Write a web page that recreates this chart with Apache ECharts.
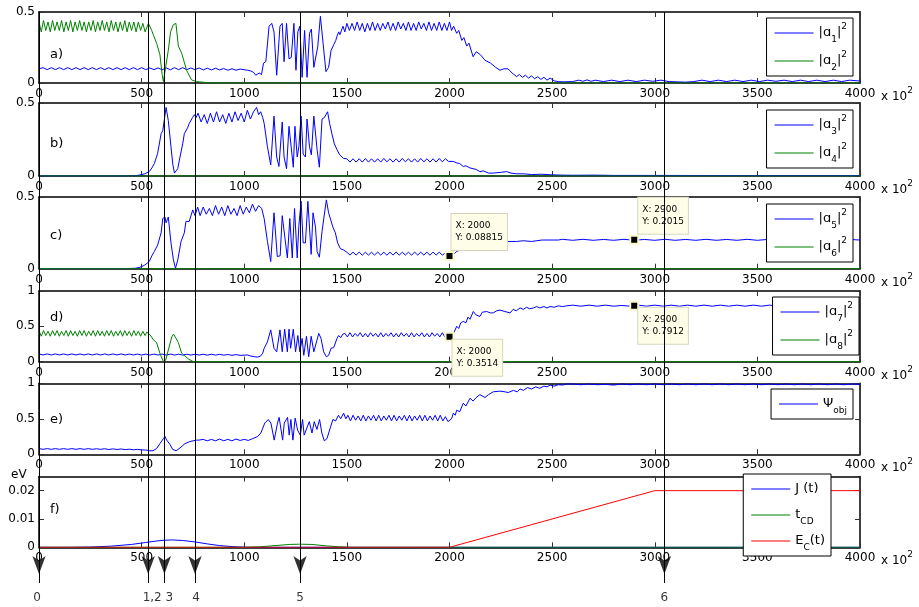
<!DOCTYPE html>
<html>
<head>
<meta charset="utf-8">
<script src="https://cdn.jsdelivr.net/npm/echarts@6/dist/echarts.min.js"></script>
<style>
  html, body { margin: 0; background: #fff; }
  #chart { width: 919px; height: 607px; }
</style>
</head>
<body>
<div id="chart"></div>
<script>
// ---- data (x in units of 10^2) ----
// regular zigzag stretches are stored as values on a fixed x step, the rest as [x, y] pairs

// panel a
const a1Flat = [.10,.108,.094,.108,.094,.108,.094,.108,.094,.108,
  .094,.108,.094,.108,.094,.108,.094,.108,.094,.108,
  .094,.108,.094,.108,.094,.108,.094,.106,.094,.106,
  .093,.106,.093,.108,.094,.108,.094,.106,.094,.106,
  .092,.104,.092,.104,.092,.102,.09,.1,.09,.098];             // x 0..980 step 20
const a1Mid = [[1016,.09],[1032,.085],[1045,.075],[1056,.055],[1064,.065],[1073,.07],[1084,.06],[1094,.14],
  [1105,.15],[1121,.40],[1134,.42],[1145,.36],[1158,.055],[1174,.40],[1185,.42],[1194,.15],[1206,.42],
  [1218,.17],[1229,.18],[1242,.42],[1252,.09],[1261,.36],[1271,.40],[1282,.04],[1294,.37],[1306,.04],
  [1318,.35],[1327,.38],[1339,.11],[1358,.255],[1371,.47],[1384,.28],[1398,.08],[1411,.11],[1423,.23],
  [1436,.27],[1446,.30],[1452,.33],[1460,.36],[1466,.34],[1471,.34],[1481,.40],[1490,.36]];
const a1Plateau = [.42,.37,.42,.37,.43,.37,.42,.36,.42,.37,
  .43,.37,.42,.37,.42,.38,.43,.37,.42,.37,
  .43,.38,.42,.37,.43,.37,.42,.37,.43,.38,
  .42,.37,.43,.37,.42,.37,.43,.37,.42,.37,.43];                 // x 1500..2000 step 12.5
const a1Fall = [[2010,.37],[2020,.40],[2035,.35],[2045,.37],[2060,.30],[2070,.32],[2084,.26],[2095,.28],
  [2115,.185],[2130,.22],[2150,.20],[2173,.16],[2200,.14],[2225,.11],[2246,.09],[2265,.10],[2285,.10],
  [2305,.07],[2327,.045],[2340,.06],[2355,.04],[2370,.055],[2385,.035],[2400,.05],[2415,.03],[2430,.045],
  [2445,.025],[2460,.04],[2475,.02],[2490,.035],[2510,.015],[2530,.01],[2553,.008],[2600,.01],[2630,.02],
  [2650,.012],[2670,.022],[2690,.012]];
const a1Tail = [.02,.01,.02,.01,.02,.01,.02,.012,.02,.01,
  .008,.006,.01,.02,.01,.02,.01,.02,.01,.02,
  .01,.02,.012,.02,.01,.02,.01,.02,.01,.02,.01,.02,.015];     // x 2710..3990 step 40
const a2Head = [.43,.36,.44,.37,.43,.36,.44,.37,.43,.37,
  .44,.36,.43,.37,.44,.36,.43,.37,.44,.37,
  .43,.36,.43,.37,.44,.36,.43,.37,.44,.37,
  .43,.36,.44,.37,.43,.36,.43,.37,.44,.36,
  .43,.37,.43,.36,.43,.37,.42,.36];                            // x 0..517 step 11
const a2Fall = [[533,.42],[549,.37],[557,.38],[573,.28],[589,.20],[600,.06],[606,.01],[614,.02],[630,.23],
  [641,.36],[654,.41],[667,.42],[679,.26],[695,.21],[719,.09],[743,.022],[767,.01],[816,.003],[850,0],[4000,0]];

// panel b
const b3Rise = [[0,0],[400,0],[470,.002],[492,.007],[515,.015],[537,.03],[550,.055],[562,.085],[578,.155],
  [595,.29],[603,.31],[612,.40],[619,.47],[630,.38],[643,.20],[652,.08],[660,.02],[668,.01],[676,.05],
  [684,.11],[700,.22],[708,.29],[716,.28],[724,.33],[732,.36],[740,.35],[748,.40],[757,.42],[765,.40]];
const b3Plat = [.43,.37,.42,.36,.43,.37,.44,.37,.42,.36,
  .43,.37,.44,.38,.43,.37,.45,.39,.44,.47];                   // x 775..1060 step 15
const b3Mid = [[1070,.42],[1080,.44],[1090,.40],[1097,.36],[1113,.20],[1129,.075],[1145,.41],[1158,.13],
  [1169,.065],[1185,.37],[1194,.13],[1206,.05],[1218,.34],[1226,.33],[1239,.06],[1247,.34],[1258,.13],
  [1266,.20],[1277,.41],[1287,.15],[1298,.13],[1306,.39],[1318,.20],[1327,.145],[1339,.41],[1355,.18],
  [1366,.06],[1379,.39],[1390,.40],[1406,.44],[1416,.36],[1427,.29],[1439,.22],[1452,.18],[1465,.145],[1484,.12]];
const b3Plat2 = [.118,.095,.118,.095,.118,.095,.12,.095,.118,.095,
  .118,.095,.12,.097,.118,.095,.118,.095,.12,.097,
  .118,.095,.118,.095,.12,.097,.118,.095,.118,.095,
  .12,.097,.118,.1];                                            // x 1500..1995 step 15
const b3Fall = [[2002,.11],[2018,.10],[2035,.09],[2050,.085],[2067,.065],[2080,.07],[2100,.055],[2115,.05],
  [2130,.045],[2148,.03],[2165,.035],[2190,.02],[2213,.02],[2250,.025],[2278,.03],[2300,.02],[2327,.015],
  [2360,.015],[2400,.01],[2450,.012],[2500,.008],[2550,.006],[2600,.005],[2700,.006],[2800,.004],[3000,.004],
  [3500,.003],[4000,.003]];

// panel c
const c5Rise = [[0,0],[400,0],[470,.003],[492,.01],[515,.025],[537,.05],[550,.09],[562,.12],[578,.165],
  [595,.25],[603,.35],[614,.36],[619,.32],[630,.36],[643,.18],[655,.06],[665,.003],[676,.06],[692,.19],
  [708,.25],[716,.33],[732,.33],[749,.41],[760,.37],[773,.43]];
const c5Plat = [.37,.43,.38,.42,.37,.44,.38,.43,.37,.44,
  .38,.42,.37,.44,.38,.43,.39,.45,.40,.44,.42];                // x 785..1085 step 15
const c5Mid = [[1097,.35],[1113,.19],[1129,.05],[1145,.39],[1161,.085],[1175,.09],[1185,.37],[1194,.38],
  [1210,.075],[1222,.35],[1228,.36],[1234,.075],[1245,.42],[1258,.075],[1266,.30],[1277,.47],[1287,.18],
  [1298,.18],[1310,.47],[1326,.10],[1335,.39],[1347,.29],[1355,.12],[1366,.08],[1379,.26],[1400,.48],
  [1411,.39],[1420,.38],[1432,.29],[1444,.25],[1455,.18],[1468,.14],[1484,.13]];
const c5Plat2 = [.115,.095,.115,.095,.116,.094,.115,.095,.115,.095,
  .116,.095,.115,.094,.115,.095,.116,.095,.115,.095,
  .115,.094,.116,.095,.115,.095,.115,.094,.116,.095,
  .115,.095,.11,.09];                                           // x 1500..1995 step 15
const c5Climb = [[2000,.088],[2020,.10],[2035,.12],[2050,.13],[2075,.15],[2100,.16],[2150,.18],[2200,.19],
  [2250,.19],[2300,.19],[2327,.19],[2360,.195],[2400,.19],[2450,.2],[2490,.2],[2530,.2]];
const c5Tail = [.205,.198,.205,.198,.204,.198,.205,.198,.204,.198,
  .205,.198,.204,.198,.205,.198,.204,.198,.205,.198,
  .204,.198,.205,.198,.204,.198,.205,.198,.204,.2];           // x 2550..4000 step 50

// panel d
const d7Flat = [.11,.095,.11,.095,.11,.095,.11,.095,.11,.095,
  .11,.095,.11,.095,.11,.095,.11,.095,.11,.095,
  .11,.095,.108,.095,.108,.094,.108,.094,.108,.094,
  .108,.094,.108,.094,.106,.094,.106,.094,.106,.094,
  .105,.093,.105,.093,.104,.092,.102,.09,.1,.09];              // x 0..980 step 20
const d7Mid = [[1016,.095],[1032,.08],[1050,.07],[1065,.065],[1080,.08],[1090,.12],[1097,.19],[1113,.28],
  [1129,.45],[1145,.19],[1158,.14],[1174,.45],[1185,.14],[1197,.46],[1210,.14],[1218,.46],[1226,.19],
  [1239,.46],[1250,.14],[1261,.37],[1271,.14],[1282,.33],[1290,.09],[1303,.36],[1314,.07],[1326,.36],
  [1339,.14],[1352,.28],[1363,.40],[1374,.33],[1387,.14],[1400,.07],[1411,.09],[1423,.19],[1436,.20],
  [1452,.33],[1460,.37],[1470,.34],[1480,.39]];
const d7Plat = [.40,.35,.41,.35,.40,.36,.41,.35,.40,.35,
  .41,.36,.40,.35,.41,.35,.40,.36,.41,.35,
  .40,.35,.41,.36,.40,.35,.41,.35,.40,.36,
  .41,.35,.40,.35,.41,.36,.40,.35,.41,.35,.40];                // x 1490..1990 step 12.5
const d7Climb = [[2000,.35],[2010,.42],[2020,.40],[2035,.50],[2045,.47],[2055,.55],[2067,.57],[2080,.55],
  [2090,.63],[2100,.60],[2116,.71],[2130,.66],[2148,.64],[2160,.70],[2181,.71],[2200,.69],[2213,.69],
  [2230,.72],[2246,.73],[2270,.71],[2295,.69],[2310,.74],[2325,.72],[2344,.76],[2360,.74],[2375,.77],
  [2390,.75],[2409,.76],[2425,.78],[2440,.76],[2460,.78],[2475,.76],[2490,.78],[2510,.77],[2530,.79],
  [2550,.78],[2571,.79]];
const d7Tail = [.80,.785,.80,.785,.80,.785,.795,.785,.80,.785,
  .80,.785,.80,.785,.80,.785,.80,.785,.80,.785,
  .80,.785,.80,.785,.80,.785,.80,.785,.80,.785,
  .80,.785,.80,.785,.80,.79];                                   // x 2600..4000 step 40
const d8Head = [.44,.36,.44,.37,.43,.36,.44,.37,.44,.36,
  .43,.37,.44,.36,.44,.37,.43,.36,.44,.37,
  .44,.36,.43,.37,.44,.36,.44,.37,.43,.36,
  .44,.37,.44,.36,.43,.37,.44,.36,.44,.37,
  .43,.36,.44,.37,.43,.36,.43,.37];                            // x 0..517 step 11
const d8Fall = [[525,.42],[541,.38],[557,.31],[573,.27],[589,.12],[606,0],[617,.02],[630,.165],[647,.35],
  [655,.39],[668,.33],[679,.27],[695,.12],[711,.08],[727,.04],[752,0],[4000,0]];

// panel e
const eFlat = [.08,.07,.08,.07,.08,.07,.08,.07,.08,.07,
  .08,.07,.08,.07,.078,.07,.078,.068,.076,.068,
  .075,.066,.072,.064,.07,.062];                               // x 0..500 step 20
const eBump = [[520,.06],[540,.05],[555,.05],[573,.08],[589,.15],[606,.22],[614,.25],[622,.20],[638,.14],
  [651,.07],[668,.05],[687,.09],[711,.15],[735,.18],[768,.20]];
const ePlat = [.20,.21,.19,.21,.19,.215,.19,.21,.19,.215,.195,.21,.195,.22];   // x 780..1040 step 20
const eMid = [[1049,.2],[1065,.25],[1081,.30],[1100,.44],[1117,.49],[1130,.44],[1146,.2],[1162,.44],
  [1170,.52],[1187,.2],[1195,.44],[1211,.52],[1219,.27],[1227,.49],[1237,.2],[1248,.51],[1260,.34],
  [1273,.27],[1284,.49],[1292,.27],[1305,.37],[1317,.46],[1330,.3],[1341,.46],[1354,.35],[1367,.49],
  [1378,.3],[1390,.19],[1403,.22],[1419,.37],[1432,.49],[1445,.47],[1459,.55],[1470,.50],[1484,.58],[1495,.50]];
const ePlat2 = [.55,.47,.55,.48,.54,.47,.55,.47,.54,.48,
  .55,.47,.55,.47,.54,.48,.55,.47,.55,.47,
  .54,.48,.55,.47,.55,.47,.54,.48,.55,.47,
  .55,.47,.54,.48,.55,.47,.55,.47,.53,.46];                    // x 1505..1992.5 step 12.5
const eClimb = [[2000,.44],[2010,.50],[2019,.58],[2028,.55],[2035,.62],[2050,.60],[2067,.72],[2080,.68],
  [2100,.79],[2115,.75],[2130,.80],[2148,.84],[2173,.80],[2190,.84],[2213,.88],[2246,.89],[2270,.88],
  [2286,.87],[2311,.9],[2330,.88],[2344,.92],[2360,.90],[2380,.94],[2400,.92],[2420,.95],[2440,.93],
  [2460,.96],[2475,.95],[2490,.975],[2510,.96],[2530,.98],[2550,.975],[2571,.99]];
const eTail = [.99,.98,.99,.98,.985,.975,.99,.98,.99,.98,
  .99,.98,.99,.98,.99,.98,.99,.98,.99,.98,
  .99,.98,.99,.98,.99,.98,.99,.98,.99,.98,
  .99,.98,.99,.98,.99,.985];                                    // x 2600..4000 step 40

// panel f (eV)
const fJ = [[0,0],[150,0],[250,.0001],[350,.0004],[450,.001],[520,.0017],[570,.0022],[610,.0025],
  [650,.0026],[700,.0024],[760,.0019],[820,.0012],[880,.0006],[950,.0002],[1020,0],[4000,0]];
const fTcd = [[0,0],[1000,0],[1080,.0002],[1150,.0006],[1220,.001],[1270,.0011],[1330,.001],[1400,.0005],
  [1460,.0002],[1520,0],[4000,0]];
const fEc = [[0,0],[2000,0],[3000,.02],[4000,.02]];
const zeroLine = [[0,0],[4000,0]];

// data tips shown in the figure
const cTipX = [2000, 2900], cTipY = [0.08815, 0.2015];
const dTipX = [2000, 2900], dTipY = [0.3514, 0.7912];

// marked instants (arrows at the bottom)
const eventX = [0, 532, 611, 760, 1272, 3047];
const eventLabels = ['0', '1,2', '3', '4', '5', '6'];

function seg(x0, step, ys) {
  return ys.map((y, i) => [x0 + i * step, y]);
}

const a1Data = seg(0, 20, a1Flat).concat(a1Mid, seg(1500, 12.5, a1Plateau), a1Fall, seg(2710, 40, a1Tail), [[4000, .015]]);
const a2Data = seg(0, 11, a2Head).concat(a2Fall);
const b3Data = b3Rise.concat(seg(775, 15, b3Plat), b3Mid, seg(1500, 15, b3Plat2), b3Fall);
const c5Data = c5Rise.concat(seg(785, 15, c5Plat), c5Mid, seg(1500, 15, c5Plat2), c5Climb, seg(2550, 50, c5Tail));
const d7Data = seg(0, 20, d7Flat).concat(d7Mid, seg(1490, 12.5, d7Plat), d7Climb, seg(2600, 40, d7Tail));
const d8Data = seg(0, 11, d8Head).concat(d8Fall);
const eData = seg(0, 20, eFlat).concat(eBump, seg(780, 20, ePlat), eMid, seg(1505, 12.5, ePlat2), eClimb, seg(2600, 40, eTail));

const FONT = 'DejaVu Sans';
const BLUE = '#0000ff', GREEN = '#008000', RED = '#ff0000';

const legendText = {
  a1: '|ɑ{sub|1}|{sup|2}', a2: '|ɑ{sub|2}|{sup|2}',
  a3: '|ɑ{sub|3}|{sup|2}', a4: '|ɑ{sub|4}|{sup|2}',
  a5: '|ɑ{sub|5}|{sup|2}', a6: '|ɑ{sub|6}|{sup|2}',
  a7: '|ɑ{sub|7}|{sup|2}', a8: '|ɑ{sub|8}|{sup|2}',
  psi: 'Ψ{sub|obj}', J: 'J (t)', tCD: 't{sub|CD}', EC: 'E{sub|C}(t)'
};
const rich = {
  sub: { fontSize: 9, lineHeight: 10, verticalAlign: 'bottom', fontFamily: FONT },
  sup: { fontSize: 9, lineHeight: 10, verticalAlign: 'top', fontFamily: FONT }
};

const panels = [
  { top: 12, bottom: 83, max: 0.5, step: 0.5, tag: 'a)', tagY: 48, legTop: 18, legRight: 66,
    lines: [['a1', a1Data, BLUE], ['a2', a2Data, GREEN]] },
  { top: 103, bottom: 176, max: 0.5, step: 0.5, tag: 'b)', tagY: 137, legTop: 110, legRight: 66,
    lines: [['a3', b3Data, BLUE], ['a4', zeroLine, GREEN]] },
  { top: 197, bottom: 268.7, max: 0.5, step: 0.5, tag: 'c)', tagY: 229, legTop: 204, legRight: 66,
    lines: [['a5', c5Data, BLUE], ['a6', zeroLine, GREEN]], tips: [cTipX, cTipY, [[7, -37], [9, -37]]] },
  { top: 291, bottom: 361.7, max: 1, step: 0.5, tag: 'd)', tagY: 311, legTop: 297, legRight: 60,
    lines: [['a7', d7Data, BLUE], ['a8', d8Data, GREEN]], tips: [dTipX, dTipY, [[8, 8], [9, 7]]] },
  { top: 383.3, bottom: 454.3, max: 1, step: 0.5, tag: 'e)', tagY: 413, legTop: 389, legRight: 66,
    lines: [['psi', eData, BLUE]] },
  { top: 476.5, bottom: 547.3, max: 0.025, step: 0.01, tag: 'f)', tagY: 503, legTop: 474, legRight: 88,
    lines: [['J', fJ, BLUE], ['tCD', fTcd, GREEN], ['EC', fEc, RED]] }
];

const grid = [], xAxis = [], yAxis = [], legend = [], series = [], graphic = [];
const axisLine = { show: true, onZero: false, lineStyle: { color: '#000', width: 1.5 } };
const axisTick = { show: true, inside: true, length: 5, lineStyle: { color: '#333' } };
const labelStyle = { fontSize: 12, fontFamily: FONT, color: '#000' };

panels.forEach((p, i) => {
  grid.push({ left: 39, width: 821, top: p.top, height: p.bottom - p.top, outerBoundsMode: 'none' });
  const xBase = { gridIndex: i, type: 'value', min: 0, max: 4000, interval: 500,
    axisLine, axisTick, splitLine: { show: false } };
  xAxis.push(Object.assign({}, xBase, { position: 'bottom',
    axisLabel: Object.assign({ margin: 5, formatter: v => String(v) }, labelStyle) }));
  xAxis.push(Object.assign({}, xBase, { position: 'top', axisLabel: { show: false } }));
  const yBase = { gridIndex: i, type: 'value', min: 0, max: p.max, interval: p.step,
    axisLine, axisTick, splitLine: { show: false } };
  yAxis.push(Object.assign({}, yBase, { position: 'left',
    axisLabel: Object.assign({ margin: 4, showMaxLabel: i !== 5, formatter: v => String(v) }, labelStyle) }));
  yAxis.push(Object.assign({}, yBase, { position: 'right', axisLabel: { show: false } }));

  p.lines.forEach(([name, data, color]) => {
    series.push({
      name, type: 'line', data, xAxisIndex: 2 * i, yAxisIndex: 2 * i,
      symbol: 'none', showSymbol: false, animation: false,
      lineStyle: { color, width: 1 }, itemStyle: { color }
    });
  });
  if (p.tips) {
    const [tx, ty, pos] = p.tips;
    series[series.length - 2].markPoint = {
      symbol: 'rect', symbolSize: 8, animation: false,
      itemStyle: { color: '#000', borderColor: '#f8f8c8', borderWidth: 2 },
      label: { show: true, fontSize: 9, fontFamily: FONT, color: '#000', lineHeight: 12,
        backgroundColor: '#fdfde8', borderColor: '#d6d6c0', borderWidth: 1, padding: [6, 4, 6, 4] },
      data: tx.map((x, k) => ({
        coord: [x, ty[k]],
        label: { position: pos[k], formatter: 'X: ' + x + '\nY: ' + ty[k] }
      }))
    };
  }

  legend.push({
    data: p.lines.map(l => l[0]), orient: 'vertical', right: p.legRight, top: p.legTop,
    icon: 'path://M0,0L40,0L40,1L0,1Z',
    itemWidth: 39, itemHeight: 1.5, itemGap: i === 5 ? 4 : 6, padding: [4, 6, 4, 8],
    borderColor: '#000', borderWidth: 1, borderRadius: 0, backgroundColor: '#fff',
    selectedMode: false,
    textStyle: { fontSize: 13, fontFamily: FONT, color: '#000', lineHeight: 22, rich },
    formatter: n => legendText[n]
  });

  graphic.push({ type: 'text', left: 50, top: p.tagY, z: 20,
    style: { text: p.tag, fontSize: 13, fontFamily: FONT, fill: '#000' } });
  graphic.push({ type: 'text', left: 881, top: p.bottom + 3, z: 20,
    style: { text: 'x 10{sup|2}', fontSize: 12, fontFamily: FONT, fill: '#000', lineHeight: 22,
      rich: { sup: { fontSize: 9, lineHeight: 10, verticalAlign: 'top', fontFamily: FONT, fill: '#000' } } } });
});
graphic.push({ type: 'text', left: 11, top: 469, style: { text: 'eV', fontSize: 12, fontFamily: FONT, fill: '#000' } });

// overlay grid for the marked instants
grid.push({ left: 39, width: 821, top: 12, height: 571, outerBoundsMode: 'none' });
xAxis.push({ gridIndex: 6, type: 'value', min: 0, max: 4000, show: false });
yAxis.push({ gridIndex: 6, type: 'value', min: 0, max: 1, show: false });
series.push({
  type: 'lines', coordinateSystem: 'cartesian2d', xAxisIndex: 12, yAxisIndex: 12, z: 10,
  animation: false, symbol: 'none',
  lineStyle: { color: '#000', width: 1, opacity: 1 },
  data: eventX.map(x => ({ coords: [[x, 1], [x, 0]] }))
});
const nudge = [-2, 4, 5, 1, 0, 0];
series.push({
  type: 'scatter', xAxisIndex: 12, yAxisIndex: 12, z: 11, animation: false, clip: false,
  symbol: 'arrow', symbolSize: [10, 18], symbolRotate: 180, symbolOffset: [0, -9],
  itemStyle: { color: '#000' },
  data: eventX.map(x => [x, 0])
});
series.push({
  type: 'scatter', xAxisIndex: 12, yAxisIndex: 12, z: 11, animation: false, clip: false,
  symbolSize: 1, itemStyle: { color: 'rgba(0,0,0,0)' },
  label: { show: true, position: 'bottom', distance: 8, fontSize: 12, fontFamily: FONT, color: '#000' },
  data: eventX.map((x, k) => ({ value: [x, 0], label: { formatter: eventLabels[k], offset: [nudge[k], 0] } }))
});

const chart = echarts.init(document.getElementById('chart'), null, { renderer: 'canvas' });
chart.setOption({
  animation: false,
  backgroundColor: '#fff',
  grid, xAxis, yAxis, legend, series, graphic,
  tooltip: { show: false }
});
</script>
</body>
</html>
